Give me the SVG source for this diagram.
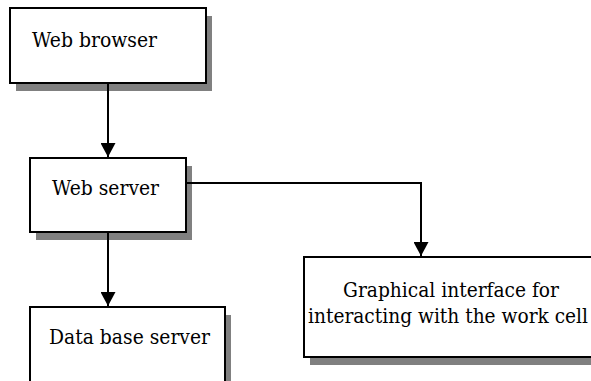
<svg xmlns="http://www.w3.org/2000/svg" width="591" height="381" viewBox="0 0 591 381">
<style>
.shadow{fill:#808080;stroke:none}
.box{fill:#ffffff;stroke:#000000;stroke-width:2}
.lbl{font-family:'DejaVu Serif','Liberation Serif',serif;font-size:20px;fill:#000000}
.conn{fill:none;stroke:#000000;stroke-width:2}
</style>
<defs>
<marker id="arr" markerUnits="userSpaceOnUse" markerWidth="16" markerHeight="15" refX="15" refY="8" orient="auto" viewBox="0 0 15 16">
<path d="M0,0 L15,8 L0,16 Z" fill="#000000"/>
</marker>
</defs>
<rect width="591" height="381" fill="#ffffff"/>
<g id="web-browser">
<rect class="shadow" x="16" y="16" width="196" height="75"/>
<rect class="box" x="10" y="8" width="196" height="75"/>
<text class="lbl" x="32" y="47" textLength="125" lengthAdjust="spacingAndGlyphs">Web browser</text>
</g>
<g id="web-server">
<rect class="shadow" x="36" y="166" width="156" height="74"/>
<rect class="box" x="30" y="158" width="156" height="74"/>
<text class="lbl" x="52" y="195" textLength="107" lengthAdjust="spacingAndGlyphs">Web server</text>
</g>
<g id="data-base-server">
<rect class="shadow" x="36" y="315" width="195" height="80"/>
<rect class="box" x="30" y="307" width="195" height="80"/>
<text class="lbl" x="49" y="344" textLength="161" lengthAdjust="spacingAndGlyphs">Data base server</text>
</g>
<g id="graphical-interface">
<rect class="shadow" x="310" y="265" width="300" height="100"/>
<rect class="box" x="304" y="257" width="300" height="100"/>
<text class="lbl" x="343" y="297" textLength="216" lengthAdjust="spacingAndGlyphs">Graphical interface for</text>
<text class="lbl" x="308" y="323" textLength="280" lengthAdjust="spacingAndGlyphs">interacting with the work cell</text>
</g>
<g id="connectors">
<path class="conn" d="M108,83 L108,157" marker-end="url(#arr)"/>
<path class="conn" d="M108,232 L108,306" marker-end="url(#arr)"/>
<path class="conn" d="M186,183 L421,183 L421,256" marker-end="url(#arr)"/>
</g>
</svg>
